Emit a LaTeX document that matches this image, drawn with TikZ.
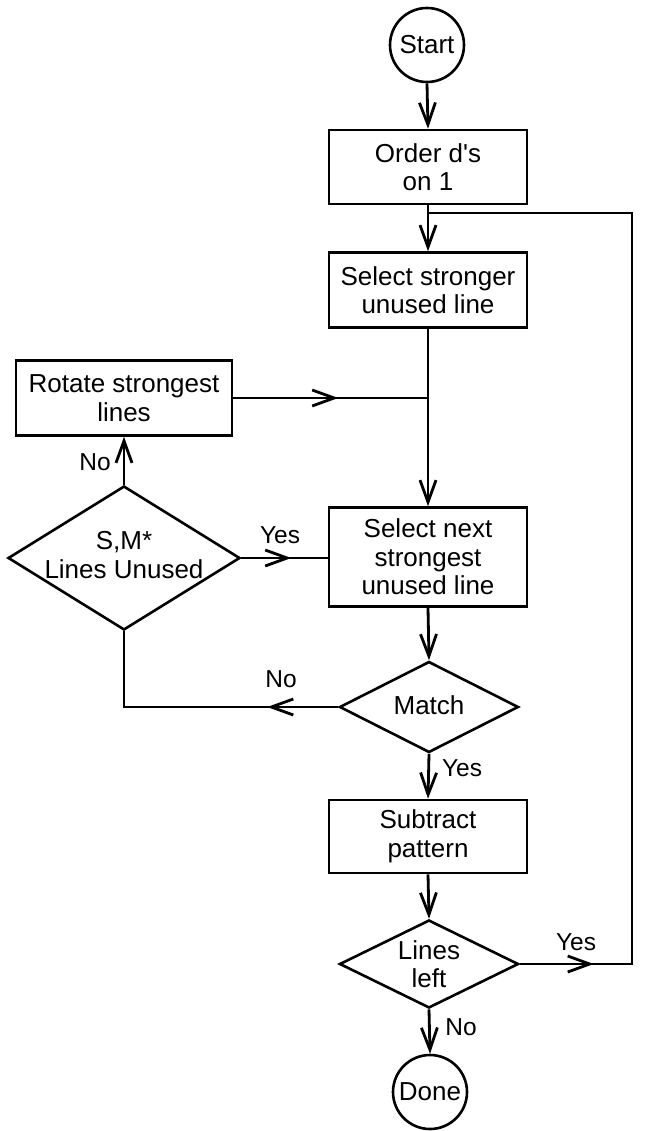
\documentclass[tikz,border=0pt]{standalone}
\usepackage{fontspec}
\setmainfont{Liberation Sans}
\usetikzlibrary{arrows.meta,shapes.geometric,decorations.markings}
\begin{document}
\begin{tikzpicture}[x=1pt,y=-1pt,
  every node/.style={font=\fontsize{26}{28.5}\selectfont},
  conn/.style={line width=2.8pt},
  boxnode/.style={draw, line width=2.6pt, rectangle, align=center, inner sep=0pt},
  termnode/.style={draw, line width=2.6pt, circle, inner sep=0pt, minimum size=74pt},
  decnode/.style={draw, line width=2.6pt, diamond, inner sep=0pt},
  txt/.style={align=center, inner sep=0pt},
  lbl/.style={inner sep=0pt, font=\fontsize{24.5}{28}\selectfont},
  endarrow/.style={-{Straight Barb[length=22pt,width=16pt]}},
  midtip/.style={postaction={decorate}, decoration={markings, mark=at position #1 with {\arrow{Straight Barb[length=22pt,width=16pt]}}}},
]
\useasboundingbox (0,0) rectangle (645,1131);

% nodes
\node[termnode] (start) at (427,45) {Start};
\node[boxnode, minimum width=198pt, minimum height=74pt] (order) at (428,167) {Order d\textquotesingle s\\on 1};
\node[boxnode, minimum width=198pt, minimum height=75pt] (sel1) at (428,290) {Select stronger\\unused line};
\node[boxnode, minimum width=216pt, minimum height=75pt] (rot) at (124,398) {Rotate strongest\\lines};
\node[decnode, minimum width=232pt, minimum height=144pt] (sm) at (124,558) {};
\node[txt] (smtext) at (124,555) {S,M*\\Lines Unused};
\node[boxnode, minimum width=198pt, minimum height=99pt] (sel2) at (428,557) {Select next\\strongest\\unused line};
\node[decnode, minimum width=179pt, minimum height=91pt] (match) at (429,707) {};
\node[txt] (matchtext) at (429,705) {Match};
\node[boxnode, minimum width=198pt, minimum height=73pt] (sub) at (428,836.5) {Subtract\\pattern};
\node[decnode, minimum width=179pt, minimum height=88pt] (left) at (429,964) {};
\node[txt] (lefttext) at (429,964) {Lines\\left};
\node[termnode] (done) at (430,1092) {Done};

% helper coordinates
\coordinate (j1) at (428,213);
\coordinate (rc) at (632,213);
\coordinate (j2) at (428,398);

% connectors
\draw[conn, endarrow] (start.south) -- (order.north);
\draw[conn, endarrow] (order.south) -- (sel1.north);
\draw[conn, endarrow] (sel1.south) -- (sel2.north);
\draw[conn, midtip=105pt] (rot.east) -- (j2);
\draw[conn, endarrow] (sm.north) -- (rot.south);
\draw[conn, midtip=50pt] (sm.east) -- (sm.east -| sel2.west);
\draw[conn, endarrow] (sel2.south) -- (match.north);
\draw[conn, midtip=71pt] (match.west) -| (sm.south);
\draw[conn, endarrow] (match.south) -- (sub.north);
\draw[conn, endarrow] (sub.south) -- (left.north);
\draw[conn, endarrow] (left.south) -- (done.north);
\draw[conn, midtip=74pt] (left.east) -| (rc) -- (j1);

% labels
\node[lbl] (noA) at (95,462) {No};
\node[lbl] (yesA) at (280,535) {Yes};
\node[lbl] (noB) at (281,679) {No};
\node[lbl] (yesB) at (462,768) {Yes};
\node[lbl] (yesC) at (576,942) {Yes};
\node[lbl] (noC) at (461,1027) {No};
\end{tikzpicture}
\end{document}
